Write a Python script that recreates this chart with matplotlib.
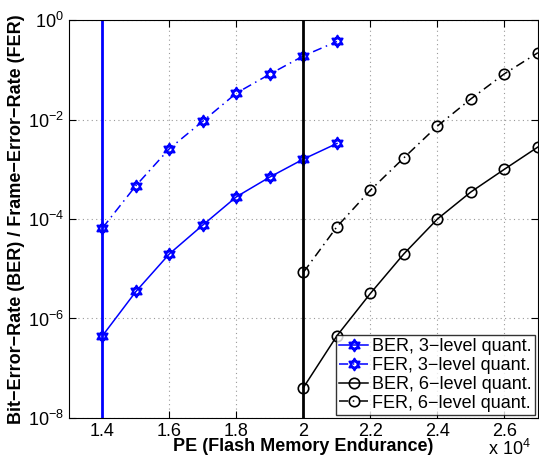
import matplotlib

matplotlib.use("Agg")
import matplotlib.pyplot as plt
import numpy as np
from matplotlib.path import Path
from matplotlib.ticker import FixedLocator, FuncFormatter

plt.rcParams["font.family"] = ["Liberation Sans", "DejaVu Sans"]
plt.rcParams["mathtext.fontset"] = "custom"
plt.rcParams["mathtext.rm"] = "Liberation Sans"
plt.rcParams["mathtext.it"] = "Liberation Sans"

# PE values (x 10^4)
pe_3level = [1.4, 1.5, 1.6, 1.7, 1.8, 1.9, 2.0, 2.1]
pe_6level = [2.0, 2.1, 2.2, 2.3, 2.4, 2.5, 2.6, 2.7]

ber_3level = [4.5e-7, 3.5e-6, 2.0e-5, 7.6e-5, 2.8e-4, 7.0e-4, 1.6e-3, 3.3e-3]
fer_3level = [6.6e-5, 4.7e-4, 2.6e-3, 9.3e-3, 3.4e-2, 8.2e-2, 0.19, 0.37]
ber_6level = [4.1e-8, 4.5e-7, 3.2e-6, 2.0e-5, 1.0e-4, 3.5e-4, 1.0e-3, 2.8e-3]
fer_6level = [8.5e-6, 7.0e-5, 3.8e-4, 1.7e-3, 7.4e-3, 2.6e-2, 8.3e-2, 0.22]

# vertical reference lines
vline_3level = 1.4
vline_6level = 2.0

x_ticks = [1.4, 1.6, 1.8, 2.0, 2.2, 2.4, 2.6]
x_tick_labels = ["1.4", "1.6", "1.8", "2", "2.2", "2.4", "2.6"]
y_ticks = [1e-8, 1e-6, 1e-4, 1e-2, 1e0]


def _hexagram():
    """Star of David marker: two overlapping triangles."""
    ang_up = np.deg2rad([90, 210, 330, 90])
    ang_dn = np.deg2rad([270, 30, 150, 270])
    verts = list(zip(np.cos(ang_up), np.sin(ang_up))) + list(
        zip(np.cos(ang_dn), np.sin(ang_dn))
    )
    codes = [Path.MOVETO, Path.LINETO, Path.LINETO, Path.CLOSEPOLY] * 2
    return Path(verts, codes)


hex_marker = _hexagram()
dashdot = (0, (6, 3, 1, 3))

fig = plt.figure(figsize=(5.39, 4.61), dpi=100)
ax = fig.add_axes([0.128, 0.0933, 0.870, 0.8633])

blue = "#0000ff"
ax.semilogy(pe_3level, ber_3level, linestyle="-", color=blue, marker=hex_marker,
            markersize=8.5, markerfacecolor="none", markeredgewidth=1.4,
            linewidth=1.1, label="BER, 3\u2212level quant.")
ax.semilogy(pe_3level, fer_3level, linestyle=dashdot, color=blue,
            marker=hex_marker, markersize=8.5, markerfacecolor="none",
            markeredgewidth=1.4, linewidth=1.1,
            label="FER, 3\u2212level quant.")
ax.semilogy(pe_6level, ber_6level, linestyle="-", color="black", marker="o",
            markersize=7.5, markerfacecolor="none", markeredgewidth=1.2,
            linewidth=1.1, label="BER, 6\u2212level quant.")
ax.semilogy(pe_6level, fer_6level, linestyle=dashdot, color="black",
            marker="o", markersize=7.5, markerfacecolor="none",
            markeredgewidth=1.2, linewidth=1.1,
            label="FER, 6\u2212level quant.")

ax.axvline(vline_3level, color=blue, linewidth=2)
ax.axvline(vline_6level, color="black", linewidth=2)

ax.set_xlim(1.3, 2.7)
ax.set_ylim(1e-8, 1e0)
ax.set_xticks(x_ticks)
ax.set_xticklabels(x_tick_labels)
ax.yaxis.set_major_locator(FixedLocator(y_ticks))
ax.yaxis.set_minor_locator(FixedLocator([]))
ax.yaxis.set_major_formatter(
    FuncFormatter(lambda v, p: r"$10^{%d}$" % int(round(np.log10(v))))
)
ax.tick_params(direction="in", top=True, right=True, labelsize=13,
               length=5, width=0.8)
ax.grid(True, linestyle=(0, (1, 3)), color="#999999", linewidth=0.8)
for sp in ax.spines.values():
    sp.set_linewidth(0.8)

ax.set_xlabel("PE (Flash Memory Endurance)", fontsize=13, fontweight="bold",
              labelpad=-1)
ax.set_ylabel("Bit\u2212Error\u2212Rate (BER) / Frame\u2212Error\u2212Rate (FER)",
              fontsize=13, fontweight="bold", labelpad=2)

fig.text(0.985, 0.005, r"x $10^{4}$", ha="right", va="bottom", fontsize=13)

leg = ax.legend(loc="lower right", fontsize=13, frameon=True, fancybox=False,
                edgecolor="black", borderpad=0.2, labelspacing=0.1,
                handlelength=1.6, handletextpad=0.2, borderaxespad=0.15)
leg.get_frame().set_linewidth(1.0)

fig.savefig("out.png", dpi=100)
plt.close(fig)
